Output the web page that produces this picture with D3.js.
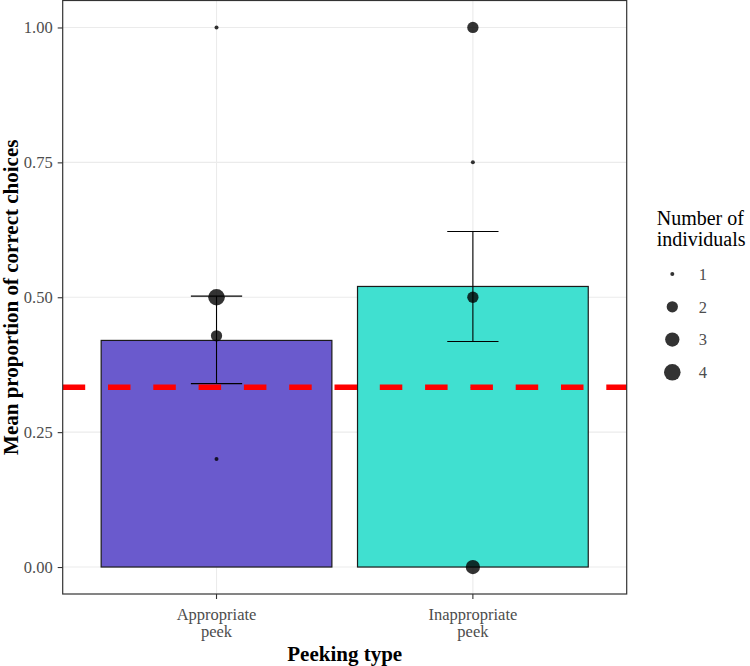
<!DOCTYPE html>
<html>
<head>
<meta charset="utf-8">
<script src="https://cdn.jsdelivr.net/npm/d3@7"></script>
<style>
  body { margin: 0; background: #fff; }
  text { font-family: 'Liberation Serif', 'Times New Roman', serif; }
</style>
</head>
<body>
<script>
const width = 750;
const height = 666;

const categories = ['Appropriate peek', 'Inappropriate peek'];
const means = [0.42, 0.52];
const err_low = [0.34, 0.418];
const err_high = [0.502, 0.622];
const bar_colors = ['#6a5acd', '#40e0d0'];
const chance = 1 / 3;

// individual points: category index, proportion, number of individuals
const pt_cat = [0, 0, 0, 0, 1, 1, 1, 1, 1];
const pt_value = [1.0, 0.5, 0.4286, 0.2, 1.0, 0.75, 0.5, 0.333, 0.0];
const pt_count = [1, 4, 2, 1, 2, 1, 2, 1, 3];

const y_ticks = [0, 0.25, 0.5, 0.75, 1];
const legend_counts = [1, 2, 3, 4];

const panel = {left: 62.7, right: 626.7, top: 0.5, bottom: 594};

const svg = d3.select('body')
    .append('svg')
    .attr('width', width)
    .attr('height', height);

svg.append('rect')
    .attr('width', width)
    .attr('height', height)
    .attr('fill', 'white');

const x = d3.scaleBand()
    .domain(categories)
    .range([panel.left, panel.right])
    .paddingInner(0.1)
    .paddingOuter(0.15);

const y = d3.scaleLinear()
    .domain([-0.05, 1.05])
    .range([panel.bottom, panel.top]);

const size = d3.scaleSqrt()
    .domain([0, 3])
    .range([0, 6.3]);
const radius = n => 2 + size(n - 1);

const cx = c => x(c) + x.bandwidth() / 2;

// grid
const grid_g = svg.append('g');
grid_g.selectAll('.hgrid')
    .data(y_ticks)
    .enter()
    .append('line')
    .attr('x1', panel.left)
    .attr('x2', panel.right)
    .attr('y1', d => y(d))
    .attr('y2', d => y(d))
    .attr('stroke', '#ebebeb')
    .attr('stroke-width', 1.1);
grid_g.selectAll('.vgrid')
    .data(categories)
    .enter()
    .append('line')
    .attr('x1', d => cx(d))
    .attr('x2', d => cx(d))
    .attr('y1', panel.top)
    .attr('y2', panel.bottom)
    .attr('stroke', '#ebebeb')
    .attr('stroke-width', 1.1);

// bars
svg.append('g')
    .selectAll('rect')
    .data(categories)
    .enter()
    .append('rect')
    .attr('x', d => x(d))
    .attr('width', x.bandwidth())
    .attr('y', (d, i) => y(means[i]))
    .attr('height', (d, i) => y(0) - y(means[i]))
    .attr('fill', (d, i) => bar_colors[i])
    .attr('stroke', '#1a1a1a')
    .attr('stroke-width', 1.2);

// points
svg.append('g')
    .selectAll('circle')
    .data(pt_value)
    .enter()
    .append('circle')
    .attr('cx', (d, i) => cx(categories[pt_cat[i]]))
    .attr('cy', d => y(d))
    .attr('r', (d, i) => radius(pt_count[i]))
    .attr('fill', 'black')
    .attr('fill-opacity', 0.8);

// error bars
const cap = x.step() * 0.2;
const err_g = svg.append('g')
    .attr('stroke', 'black')
    .attr('stroke-width', 1.1);
categories.forEach((c, i) => {
    const xc = cx(c);
    err_g.append('line')
        .attr('x1', xc).attr('x2', xc)
        .attr('y1', y(err_high[i])).attr('y2', y(err_low[i]));
    [err_high[i], err_low[i]].forEach(v => {
        err_g.append('line')
            .attr('x1', xc - cap / 2).attr('x2', xc + cap / 2)
            .attr('y1', y(v)).attr('y2', y(v));
    });
});

// chance line
svg.append('line')
    .attr('x1', panel.left)
    .attr('x2', panel.right)
    .attr('y1', y(chance))
    .attr('y2', y(chance))
    .attr('stroke', '#ff0000')
    .attr('stroke-width', 5.5)
    .attr('stroke-dasharray', '22.5,22.8');

// panel border
svg.append('rect')
    .attr('x', panel.left)
    .attr('y', panel.top)
    .attr('width', panel.right - panel.left)
    .attr('height', panel.bottom - panel.top)
    .attr('fill', 'none')
    .attr('stroke', '#333333')
    .attr('stroke-width', 1.2);

// y axis
const y_axis = svg.append('g')
    .attr('transform', `translate(${panel.left},0)`)
    .call(d3.axisLeft(y).tickValues(y_ticks).tickFormat(d3.format('.2f')).tickSize(5));
y_axis.select('.domain').remove();
y_axis.selectAll('line').attr('stroke', '#333333').attr('stroke-width', 1.1);
y_axis.selectAll('text')
    .attr('x', -10)
    .attr('font-size', 16.5)
    .attr('font-family', 'Liberation Serif')
    .attr('fill', '#4d4d4d');

// x axis
const x_axis = svg.append('g')
    .attr('transform', `translate(0,${panel.bottom})`)
    .call(d3.axisBottom(x).tickSize(5).tickFormat(''));
x_axis.select('.domain').remove();
x_axis.selectAll('line').attr('stroke', '#333333').attr('stroke-width', 1.1);
x_axis.selectAll('.tick')
    .append('text')
    .attr('text-anchor', 'middle')
    .attr('font-size', 16.5)
    .attr('fill', '#4d4d4d')
    .selectAll('tspan')
    .data(d => d.split(' '))
    .enter()
    .append('tspan')
    .attr('x', 0)
    .attr('y', (d, i) => 26 + i * 17)
    .text(d => d);

// axis titles
svg.append('text')
    .attr('x', (panel.left + panel.right) / 2)
    .attr('y', 661)
    .attr('text-anchor', 'middle')
    .attr('font-size', 21)
    .attr('font-weight', 'bold')
    .attr('fill', 'black')
    .text('Peeking type');

svg.append('text')
    .attr('transform', `translate(18,${(panel.top + panel.bottom) / 2}) rotate(-90)`)
    .attr('text-anchor', 'middle')
    .attr('font-size', 21)
    .attr('font-weight', 'bold')
    .attr('fill', 'black')
    .text('Mean proportion of correct choices');

// legend
const legend = svg.append('g').attr('transform', 'translate(656.7,0)');
legend.append('text')
    .attr('font-size', 20)
    .attr('fill', 'black')
    .selectAll('tspan')
    .data(['Number of', 'individuals'])
    .enter()
    .append('tspan')
    .attr('x', 0)
    .attr('y', (d, i) => 225 + i * 21)
    .text(d => d);

const key_y = d3.scalePoint().domain(legend_counts).range([274, 372.3]);
const keys = legend.selectAll('.key')
    .data(legend_counts)
    .enter()
    .append('g')
    .attr('transform', d => `translate(0,${key_y(d)})`);
keys.append('circle')
    .attr('cx', 15.6)
    .attr('r', d => radius(d))
    .attr('fill', 'black')
    .attr('fill-opacity', 0.8);
keys.append('text')
    .attr('x', 42)
    .attr('dy', '0.35em')
    .attr('font-size', 16.5)
    .attr('fill', '#4d4d4d')
    .text(d => d);
</script>
</body>
</html>
